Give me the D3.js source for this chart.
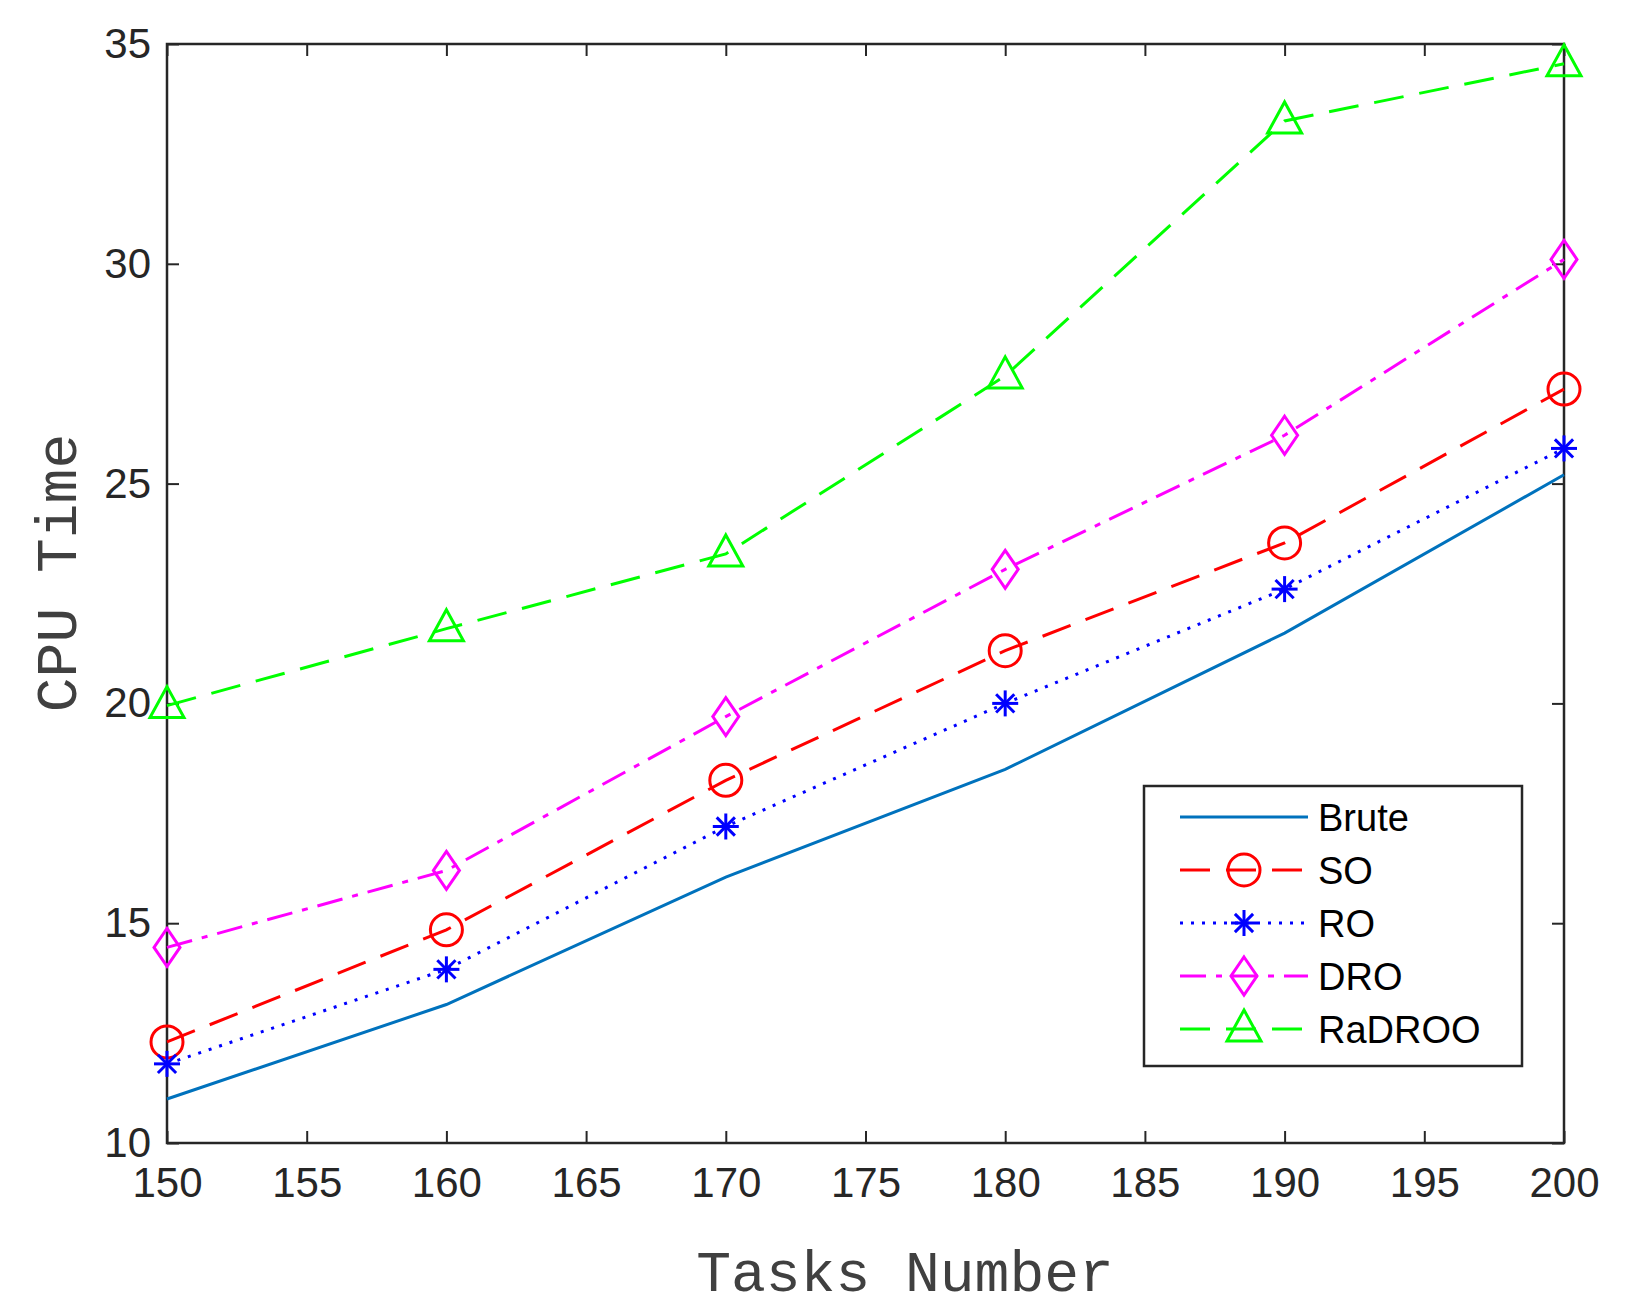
<!DOCTYPE html>
<html><head><meta charset="utf-8">
<script src="https://cdn.jsdelivr.net/npm/d3@7"></script>
<style>body{margin:0;background:#fff}</style></head>
<body><svg id="c" width="1630" height="1306"></svg>
<script>
const tasks=[150,160,170,180,190,200];
const brute=[11.0,13.15,16.05,18.5,21.6,25.2];
const so=[12.3,14.85,18.25,21.2,23.65,27.15];
const ro=[11.8,13.95,17.2,20.0,22.6,25.8];
const dro=[14.45,16.2,19.7,23.05,26.1,30.1];
const radroo=[19.95,21.7,23.4,27.45,33.25,34.55];
const xTicks=[150,155,160,165,170,175,180,185,190,195,200];
const yTicks=[10,15,20,25,30,35];
const seriesNames=["Brute","SO","RO","DRO","RaDROO"];

const L=167,R=1564,T=44,B=1143;
const svg=d3.select("#c");
const x=d3.scaleLinear().domain([150,200]).range([L,R]);
const y=d3.scaleLinear().domain([10,35]).range([B,T]);
const series=[
 {name:"Brute",v:brute,color:"#0072BD",dash:null,m:null},
 {name:"SO",v:so,color:"#FF0000",dash:"30,16",m:"circle"},
 {name:"RO",v:ro,color:"#0000FF",dash:"3,8",m:"star"},
 {name:"DRO",v:dro,color:"#FF00FF",dash:"26,10,6,10",m:"diamond"},
 {name:"RaDROO",v:radroo,color:"#00FF00",dash:"30,16",m:"triangle"}];
const font="'Liberation Sans',Arial,sans-serif";
const ax=svg.append("g").attr("transform",`translate(0,${B})`).call(d3.axisBottom(x).tickValues(xTicks).tickSize(-12).tickPadding(24).tickFormat(d3.format("d")));
const axT=svg.append("g").attr("transform",`translate(0,${T})`).call(d3.axisTop(x).tickValues(xTicks).tickSize(-12).tickFormat(""));
const ay=svg.append("g").attr("transform",`translate(${L},0)`).call(d3.axisLeft(y).tickValues(yTicks).tickSize(-12).tickPadding(16));
const ayR=svg.append("g").attr("transform",`translate(${R},0)`).call(d3.axisRight(y).tickValues(yTicks).tickSize(-12).tickFormat(""));
[ax,axT,ay,ayR].forEach(g=>{g.select(".domain").remove();g.selectAll("line").attr("stroke","#262626").attr("stroke-width",2);
 g.selectAll("text").attr("font-family",font).attr("font-size",42).attr("fill","#262626");});
svg.append("rect").attr("x",L).attr("y",T).attr("width",R-L).attr("height",B-T).attr("fill","none").attr("stroke","#262626").attr("stroke-width",2.5);
svg.append("text").attr("x",905).attr("y",1291).attr("text-anchor","middle").attr("font-family","'Liberation Mono',monospace").attr("font-size",58).attr("fill","#404040").text("Tasks Number");
svg.append("text").attr("transform",`translate(76,573) rotate(-90)`).attr("text-anchor","middle").attr("font-family","'Liberation Mono',monospace").attr("font-size",58).attr("fill","#404040").text("CPU Time");

function marker(g,type,cx,cy,color){
 const s=16;
 if(type==="circle")g.append("circle").attr("cx",cx).attr("cy",cy).attr("r",s).attr("fill","none").attr("stroke",color).attr("stroke-width",3);
 if(type==="diamond")g.append("path").attr("d",`M${cx},${cy-19}L${cx+13},${cy}L${cx},${cy+19}L${cx-13},${cy}Z`).attr("fill","none").attr("stroke",color).attr("stroke-width",3);
 if(type==="triangle")g.append("path").attr("d",`M${cx},${cy-19}L${cx+17},${cy+12}L${cx-17},${cy+12}Z`).attr("fill","none").attr("stroke",color).attr("stroke-width",3);
 if(type==="star"){[[0,-1],[1,0],[0.7,0.7],[0.7,-0.7]].forEach(([a,b])=>g.append("line").attr("x1",cx-a*13).attr("y1",cy-b*13).attr("x2",cx+a*13).attr("y2",cy+b*13).attr("stroke",color).attr("stroke-width",3));}
}
const line=d3.line().x((d,i)=>x(tasks[i])).y(d=>y(d));
series.forEach(s=>{
 const g=svg.append("g");
 g.append("path").attr("d",line(s.v)).attr("fill","none").attr("stroke",s.color).attr("stroke-width",3).attr("stroke-dasharray",s.dash);
 if(s.m)s.v.forEach((v,i)=>marker(g,s.m,x(tasks[i]),y(v),s.color));
});
const lg=svg.append("g");
lg.append("rect").attr("x",1144).attr("y",786).attr("width",378).attr("height",280).attr("fill","#fff").attr("stroke","#262626").attr("stroke-width",2.5);
series.forEach((s,i)=>{
 const yy=817+i*53;
 lg.append("line").attr("x1",1180).attr("x2",1308).attr("y1",yy).attr("y2",yy).attr("stroke",s.color).attr("stroke-width",3).attr("stroke-dasharray",s.dash);
 if(s.m)marker(lg,s.m,1244,yy,s.color);
 lg.append("text").attr("x",1318).attr("y",yy+14).attr("font-family",font).attr("font-size",38).attr("fill","#000").text(s.name);
});
</script></body></html>
